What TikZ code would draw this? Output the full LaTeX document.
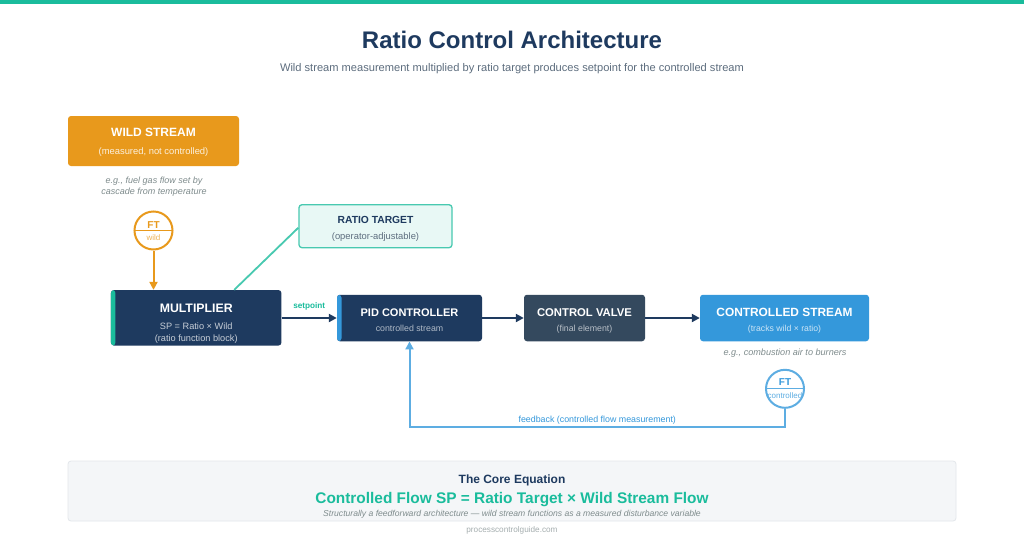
\documentclass[tikz,border=0pt]{standalone}
\usepackage{fontspec}
\setmainfont{Liberation Sans}
\usetikzlibrary{arrows.meta}
\definecolor{navy}{HTML}{1E3A5F}
\definecolor{slate}{HTML}{34495E}
\definecolor{teal}{HTML}{1ABC9C}
\definecolor{mint}{HTML}{E8F8F5}
\definecolor{mintline}{HTML}{48C9B0}
\definecolor{blue}{HTML}{3498DB}
\definecolor{lightblue}{HTML}{5DADE2}
\definecolor{orange}{HTML}{E8991C}
\definecolor{subgray}{HTML}{5D6D7E}
\definecolor{notegray}{HTML}{7F8C8D}
\definecolor{panel}{HTML}{F4F6F8}
\definecolor{panelline}{HTML}{E3E7EB}
\def\fs#1{\fontsize{#1}{#1}\selectfont}

\begin{document}
\begin{tikzpicture}[x=1pt,y=-1pt,
	box/.style={rounded corners=3pt, inner sep=0pt},
	txt/.style={anchor=base, inner sep=0pt},
	stripe/.style={path picture={\fill[#1] (path picture bounding box.north west) rectangle ([xshift=4.5pt]path picture bounding box.south west);}},
	inst/.style={circle, draw=#1, fill=white, line width=2pt, minimum size=38pt, inner sep=0pt,
		path picture={\draw[#1, line width=1.1pt] (path picture bounding box.west) -- (path picture bounding box.east);}},
	flow/.style={line width=2pt, -{Triangle[length=8pt,width=8pt]}},
	note/.style={text=notegray, font=\itshape\fontsize{9}{11}\selectfont, align=center}]
	%%%%% START %%%%%
	
	\useasboundingbox (0,0) rectangle (1024,538);
	\fill[white] (0,0) rectangle (1024,538);
	\fill[teal] (0,0) rectangle (1024,4);
	
	\node[txt, text=navy, font=\bfseries\fs{24}] (title) at (512,48.5) {Ratio Control Architecture};
	\node[txt, text=subgray, font=\fs{11.1}] (subtitle) at (512,71) {Wild stream measurement multiplied by ratio target produces setpoint for the controlled stream};
	
	% wild side
	\node[box, fill=orange, minimum width=171pt, minimum height=50pt] (wild) at (153.5,141) {};
	\node[txt, text=white, font=\bfseries\fs{12}] (wildtitle) at (153.5,136.3) {WILD STREAM};
	\node[txt, text=white!85!orange, font=\fs{9.4}] (wildsub) at (153.5,154.4) {(measured, not controlled)};
	\node[note] (wildnote) at (154,186.5) {e.g., fuel gas flow set by\\cascade from temperature};
	\node[inst=orange] (ftw) at (153.5,230.5) {};
	\node[txt, text=orange, font=\bfseries\fs{10}] (ftwtag) at (153.5,228.6) {FT};
	\node[txt, text=orange!75, font=\fs{8}] (ftwsub) at (153.5,240.6) {wild};
	
	% ratio target
	\node[box, fill=mint, draw=mintline, line width=1.3pt, minimum width=153pt, minimum height=43pt] (ratio) at (375.5,226.2) {};
	\node[txt, text=navy, font=\bfseries\fs{10.3}] (ratiotitle) at (375.5,223.7) {RATIO TARGET};
	\node[txt, text=subgray, font=\fs{9.4}] (ratiosub) at (375.5,239) {(operator-adjustable)};
	
	% main chain
	\node[box, fill=navy, stripe=teal, minimum width=170.5pt, minimum height=55.5pt] (mult) at (196.2,317.8) {};
	\node[txt, text=white, font=\bfseries\fs{12.3}] (multtitle) at (196.2,312.2) {MULTIPLIER};
	\node[txt, text=white!75!navy, font=\fs{9.2}] (multsub) at (196.2,329) {SP = Ratio × Wild};
	\node[txt, text=white!75!navy, font=\fs{9.2}] (multsub2) at (196.2,341) {(ratio function block)};
	
	\node[box, fill=navy, stripe=blue, minimum width=145pt, minimum height=46.5pt] (pid) at (409.5,318) {};
	\node[txt, text=white, font=\bfseries\fs{11}] (pidtitle) at (409.5,316.3) {PID CONTROLLER};
	\node[txt, text=white!65!navy, font=\fs{8.8}] (pidsub) at (409.5,331.5) {controlled stream};
	
	\node[box, fill=slate, minimum width=121pt, minimum height=46.5pt] (valve) at (584.5,318) {};
	\node[txt, text=white, font=\bfseries\fs{11.3}] (valvetitle) at (584.5,316.3) {CONTROL VALVE};
	\node[txt, text=white!65!slate, font=\fs{8.8}] (valvesub) at (584.5,331.5) {(final element)};
	
	\node[box, fill=blue, minimum width=169pt, minimum height=46.5pt] (ctrl) at (784.5,318) {};
	\node[txt, text=white, font=\bfseries\fs{11.9}] (ctrltitle) at (784.5,316) {CONTROLLED STREAM};
	\node[txt, text=white!75!blue, font=\fs{8.7}] (ctrlsub) at (784.5,331.5) {(tracks wild × ratio)};
	\node[note, font=\itshape\fs{9.1}] (ctrlnote) at (785,353.3) {e.g., combustion air to burners};
	\node[inst=lightblue] (ftc) at (785,388.8) {};
	\node[txt, text=blue, font=\bfseries\fs{10}] (ftctag) at (785,385.3) {FT};
	\node[txt, text=lightblue, font=\fs{8}] (ftcsub) at (785,398.9) {controlled};
	
	% connectors
	\draw[flow, orange] (ftw.south) -- (ftw.south |- mult.north);
	\draw[mintline, line width=1.8pt] ([yshift=-1.5pt]ratio.west) -- ([xshift=38pt]mult.north);
	\draw[flow, navy] (mult.east |- pid.west) -- node[above=3pt, text=teal, font=\bfseries\fs{8.2}] (setpt) {setpoint} (pid.west);
	\draw[flow, navy] (pid.east) -- (valve.west);
	\draw[flow, navy] (valve.east) -- (ctrl.west);
	\draw[flow, lightblue] (ftc.south) -- (ftc.south |- 0,426.7) -| node[pos=0.25, above=-1.5pt, text=blue, font=\fs{8.85}] (fbtext) {feedback (controlled flow measurement)} (pid.south);
	
	% equation panel
	\draw[panelline, fill=panel, rounded corners=3pt, line width=0.8pt] (68,461) rectangle (956,521);
	\node[txt, text=navy, font=\bfseries\fs{12}] (eqhead) at (512,483.3) {The Core Equation};
	\node[txt, text=teal, font=\bfseries\fs{15.4}] (eq) at (512,503.5) {Controlled Flow SP = Ratio Target × Wild Stream Flow};
	\node[txt, text=notegray, font=\itshape\fs{8.6}] (eqnote) at (512,516) {Structurally a feedforward architecture — wild stream functions as a measured disturbance variable};
	\node[txt, text=notegray!70, font=\fs{8.2}] (site) at (512,532) {processcontrolguide.com};
	
	%%%%% END %%%%%
\end{tikzpicture}
\end{document}
